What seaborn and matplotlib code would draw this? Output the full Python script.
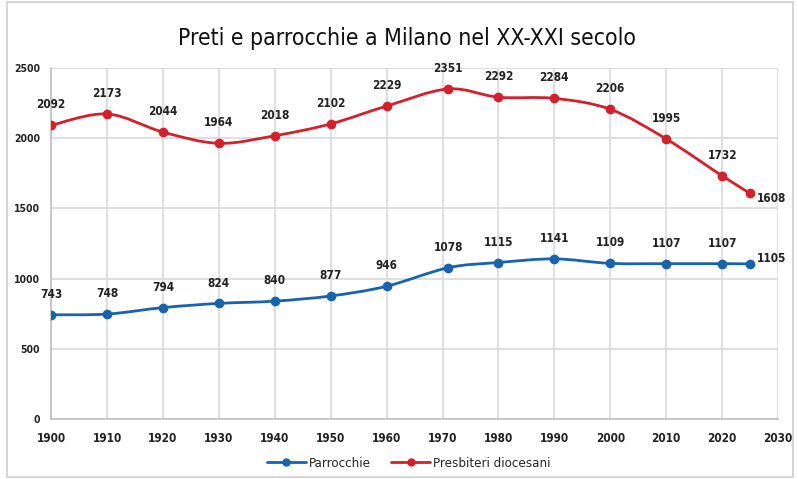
import numpy as np
import pandas as pd
import matplotlib
matplotlib.use("Agg")
import matplotlib.pyplot as plt
from matplotlib.path import Path
from matplotlib.patches import PathPatch, Rectangle
import seaborn as sns

# dati
anni = [1900, 1910, 1920, 1930, 1940, 1950, 1960, 1971, 1980, 1990, 2000, 2010, 2020, 2025]
parrocchie = [743, 748, 794, 824, 840, 877, 946, 1078, 1115, 1141, 1109, 1107, 1107, 1105]
presbiteri = [2092, 2173, 2044, 1964, 2018, 2102, 2229, 2351, 2292, 2284, 2206, 1995, 1732, 1608]
serie = ["Parrocchie", "Presbiteri diocesani"]
colori = ["#1763ad", "#d4202a"]

df = pd.DataFrame({"Anno": anni * 2,
                   "Valore": parrocchie + presbiteri,
                   "Serie": [serie[0]] * len(anni) + [serie[1]] * len(anni)})

sns.set_style("white")
plt.rcParams["font.family"] = ["DejaVu Sans"]
plt.rcParams["font.stretch"] = "condensed"

fig = plt.figure(figsize=(7.98, 4.79), dpi=100)
ax = fig.add_axes([0.064, 0.125, 0.911, 0.733])

# marker dei punti (il tratto e' disegnato sotto come curva smussata)
sns.lineplot(data=df, x="Anno", y="Valore", hue="Serie", palette=colori,
             marker="o", markersize=7, markeredgewidth=0, linewidth=0,
             legend=False, ax=ax, zorder=3)


def curva_smussata(x, y):
    # curva di Bezier stile Excel (Catmull-Rom, tensione 1/6)
    p = np.column_stack([x, y]).astype(float)
    verts = [p[0]]
    codes = [Path.MOVETO]
    n = len(p)
    for i in range(n - 1):
        p0 = p[i - 1] if i > 0 else p[i]
        p3 = p[i + 2] if i + 2 < n else p[i + 1]
        c1 = p[i] + (p[i + 1] - p0) / 6
        c2 = p[i + 1] - (p3 - p[i]) / 6
        verts += [c1, c2, p[i + 1]]
        codes += [Path.CURVE4] * 3
    return Path(verts, codes)


for vals, col in zip([parrocchie, presbiteri], colori):
    ax.add_patch(PathPatch(curva_smussata(anni, vals), facecolor="none",
                           edgecolor=col, linewidth=2, zorder=2))
    for i, (xa, v) in enumerate(zip(anni, vals)):
        if i == len(anni) - 1:
            dy = 4 if vals is parrocchie else -4
            ax.annotate(str(v), (xa, v), xytext=(5, dy), textcoords="offset points",
                        ha="left", va="center", fontsize=8.5, fontweight="bold", color="#222222")
        else:
            ax.annotate(str(v), (xa, v), xytext=(0, 10), textcoords="offset points",
                        ha="center", va="bottom", fontsize=8.5, fontweight="bold", color="#222222")

ax.set_xlim(1900, 2030)
ax.set_ylim(0, 2500)
ax.set_xticks(range(1900, 2031, 10))
ax.set_yticks(range(0, 2501, 500))
ax.grid(True, color="#d9d9d9", linewidth=1.2)
ax.set_axisbelow(True)
for s in ["top", "right"]:
    ax.spines[s].set_visible(False)
for s in ["left", "bottom"]:
    ax.spines[s].set_color("#bfbfbf")
    ax.spines[s].set_linewidth(1.2)
ax.tick_params(axis="both", length=0, colors="#222222")
ax.tick_params(axis="x", pad=9, labelsize=8.5)
ax.tick_params(axis="y", pad=8, labelsize=7.5)
for lab in ax.get_xticklabels() + ax.get_yticklabels():
    lab.set_fontweight("bold")
ax.set_xlabel("")
ax.set_ylabel("")

fig.text(0.51, 0.92, "Preti e parrocchie a Milano nel XX-XXI secolo",
         ha="center", va="center", fontsize=16.5, color="#111111")

handles = [plt.Line2D([], [], color=c, marker="o", markersize=5, linewidth=2) for c in colori]
fig.legend(handles, serie, loc="center", bbox_to_anchor=(0.512, 0.033), ncol=2,
           frameon=False, fontsize=9.5, handlelength=3, columnspacing=1.5, handletextpad=0.2)

# bordo esterno del grafico
fig.patches.append(Rectangle((0.009, 0.004), 0.985, 0.992, transform=fig.transFigure,
                             fill=False, edgecolor="#d0d0d0", linewidth=1.2))

fig.savefig("out.png", dpi=100)
